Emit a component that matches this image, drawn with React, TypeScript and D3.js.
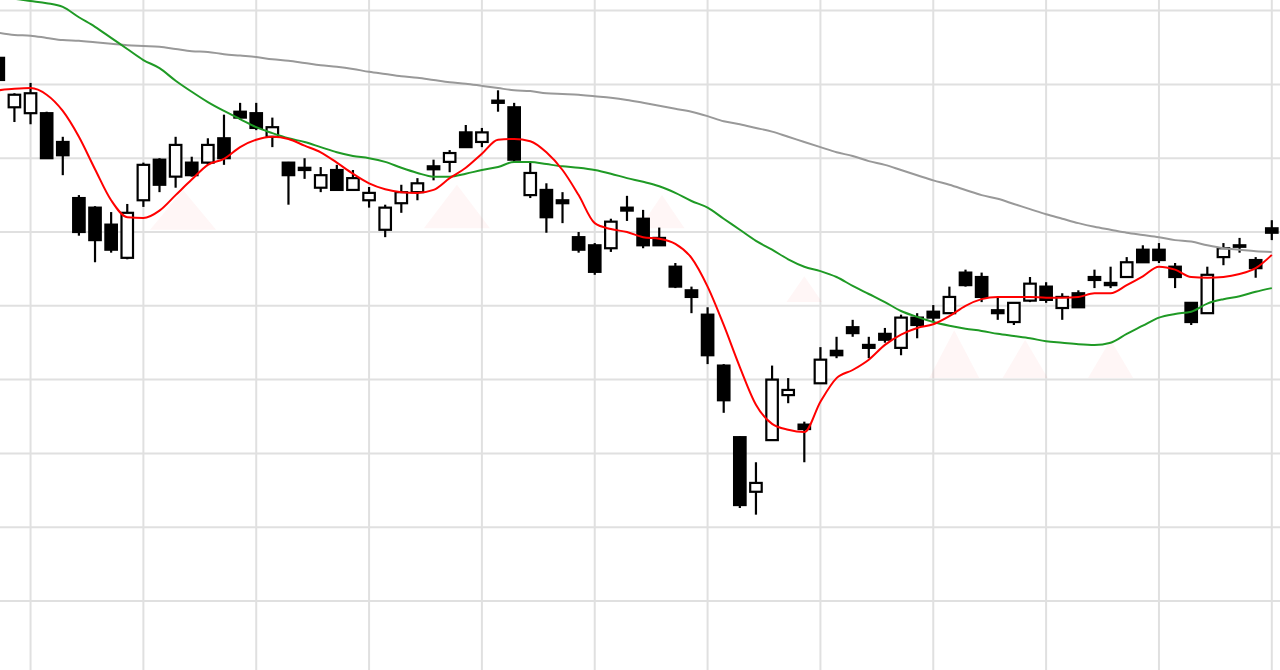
import React from "react";
import * as d3 from "d3";

// Daily candles (price units), oldest to newest
const open = [1736,1669,1661,1661,1622,1546,1533,1510,1465,1543,1598,1575,1594,1594,1627,1663,1661,1629,1594,1587,1560,1584,1557,1543,1503,1539,1554,1589,1595,1635,1622,1678,1669,1550,1557,1543,1493,1482,1478,1533,1518,1492,1453,1421,1388,1319,1222,1148,1218,1279,1239,1295,1339,1371,1347,1362,1343,1384,1392,1390,1445,1439,1394,1378,1407,1426,1397,1417,1439,1431,1439,1476,1476,1453,1404,1390,1466,1482,1462,1505];
const close = [1706,1686,1688,1600,1604,1500,1489,1476,1526,1591,1564,1618,1577,1618,1600,1655,1641,1642,1577,1584,1577,1557,1573,1553,1533,1554,1566,1585,1607,1615,1635,1675,1598,1580,1520,1539,1476,1446,1514,1529,1482,1482,1426,1412,1333,1272,1130,1160,1300,1286,1233,1327,1333,1363,1343,1354,1384,1374,1384,1412,1428,1412,1390,1404,1430,1408,1412,1398,1435,1428,1459,1459,1462,1439,1378,1442,1478,1480,1451,1499];
const high = [1740,1688,1702,1663,1629,1550,1535,1527,1538,1594,1600,1629,1602,1627,1659,1675,1675,1655,1595,1600,1588,1591,1584,1561,1537,1564,1573,1598,1611,1645,1641,1692,1675,1594,1566,1554,1500,1485,1518,1549,1530,1506,1458,1426,1398,1321,1223,1188,1319,1302,1243,1344,1358,1381,1358,1370,1388,1390,1401,1426,1449,1445,1412,1405,1439,1432,1417,1421,1449,1453,1466,1482,1485,1458,1405,1453,1485,1492,1466,1516];
const low = [1703,1649,1646,1599,1577,1495,1459,1472,1463,1534,1554,1560,1575,1591,1591,1652,1638,1615,1537,1572,1554,1556,1556,1533,1493,1526,1543,1570,1581,1614,1615,1663,1594,1546,1499,1512,1472,1442,1473,1515,1478,1481,1424,1390,1321,1255,1126,1117,1217,1268,1188,1294,1329,1358,1329,1350,1333,1356,1378,1389,1426,1405,1381,1374,1405,1404,1381,1397,1424,1424,1438,1458,1458,1424,1374,1389,1455,1472,1438,1489];

// Moving averages
const maShort = [1692,1694,1695,1686,1664,1629,1585,1543,1520,1519,1529,1550,1571,1591,1599,1615,1625,1629,1626,1617,1608,1594,1579,1566,1558,1554,1553,1557,1573,1587,1606,1625,1626,1623,1608,1584,1550,1512,1504,1500,1493,1491,1484,1465,1426,1374,1317,1266,1240,1232,1229,1270,1302,1313,1327,1347,1361,1370,1375,1386,1400,1409,1412,1412,1412,1411,1411,1412,1417,1417,1428,1440,1453,1449,1439,1438,1439,1443,1451,1469];
const maMid = [1818,1816,1813,1810,1805,1791,1778,1763,1748,1733,1722,1705,1690,1676,1664,1653,1642,1634,1627,1622,1615,1608,1603,1600,1595,1587,1580,1575,1575,1579,1584,1588,1595,1595,1592,1589,1587,1584,1579,1573,1568,1562,1553,1542,1533,1518,1503,1488,1476,1463,1453,1447,1439,1427,1416,1405,1393,1385,1378,1373,1369,1366,1362,1359,1356,1352,1350,1348,1347,1350,1362,1373,1384,1389,1392,1403,1409,1413,1419,1424];
const maLong = [1770,1767,1766,1763,1760,1759,1757,1755,1753,1752,1751,1748,1745,1744,1741,1739,1737,1734,1732,1729,1726,1724,1721,1717,1714,1711,1709,1706,1703,1701,1698,1695,1692,1691,1688,1687,1686,1684,1682,1679,1675,1671,1667,1663,1657,1650,1646,1641,1636,1629,1622,1615,1608,1603,1596,1591,1584,1577,1570,1564,1557,1550,1545,1538,1531,1524,1518,1512,1507,1503,1499,1496,1493,1489,1487,1482,1478,1476,1474,1473];

// Horizontal grid values
const gridValues = [1000, 1100, 1200, 1300, 1400, 1500, 1600, 1700, 1800];

// Faint pink markers: candle index, apex price, base price, half width (candles)
const markIdx = [11.46, 28.45, 41.17, 50.0, 59.3, 63.7, 69.0];
const markApex = [1557, 1564, 1550, 1440, 1367, 1354, 1354];
const markBase = [1503, 1505, 1505, 1405, 1302, 1302, 1302];
const markHalf = [2.05, 2.05, 1.4, 1.1, 1.55, 1.4, 1.4];

const W = 1280;
const H = 670;

export default function App() {
  const n = open.length;
  const x = d3.scaleLinear().domain([0, n - 1]).range([-1.7, 1271.8]);
  const y = d3.scaleLinear().domain([1000, 1800]).range([601, 10.6]);
  const vGrid = d3.range(2, n, 7);
  const bodyW = 11.5;

  const line = d3
    .line<number>()
    .x((_, i) => x(i))
    .y((v) => y(v))
    .curve(d3.curveMonotoneX);

  return (
    <svg
      width={W}
      height={H}
      style={{ position: "fixed", left: 0, top: 0, background: "#fff" }}
    >
      <rect x={0} y={0} width={W} height={H} fill="#fff" />
      {gridValues.map((g) => (
        <line key={"h" + g} x1={0} x2={W} y1={y(g)} y2={y(g)} stroke="#e0e0e0" strokeWidth={2} />
      ))}
      {vGrid.map((i) => (
        <line key={"v" + i} x1={x(i)} x2={x(i)} y1={0} y2={H} stroke="#e0e0e0" strokeWidth={2} />
      ))}
      {markIdx.map((m, k) => (
        <polygon
          key={"m" + k}
          points={`${x(m)},${y(markApex[k])} ${x(m - markHalf[k])},${y(markBase[k])} ${x(m + markHalf[k])},${y(markBase[k])}`}
          fill="#ff2020"
          opacity={0.04}
        />
      ))}
      {open.map((o, i) => {
        const c = close[i];
        const bull = c >= o;
        const top = y(Math.max(o, c));
        const bot = y(Math.min(o, c));
        const h = Math.max(bot - top, 1.5);
        return (
          <g key={"c" + i}>
            <line x1={x(i)} x2={x(i)} y1={y(high[i])} y2={y(low[i])} stroke="#000" strokeWidth={2.2} />
            <rect
              x={x(i) - bodyW / 2}
              y={top}
              width={bodyW}
              height={h}
              fill={bull ? "#fff" : "#000"}
              stroke="#000"
              strokeWidth={2.2}
            />
          </g>
        );
      })}
      <path d={line(maLong) || ""} fill="none" stroke="#999999" strokeWidth={2} />
      <path d={line(maMid) || ""} fill="none" stroke="#1f9a25" strokeWidth={2} />
      <path d={line(maShort) || ""} fill="none" stroke="#ff0000" strokeWidth={2} />
    </svg>
  );
}
